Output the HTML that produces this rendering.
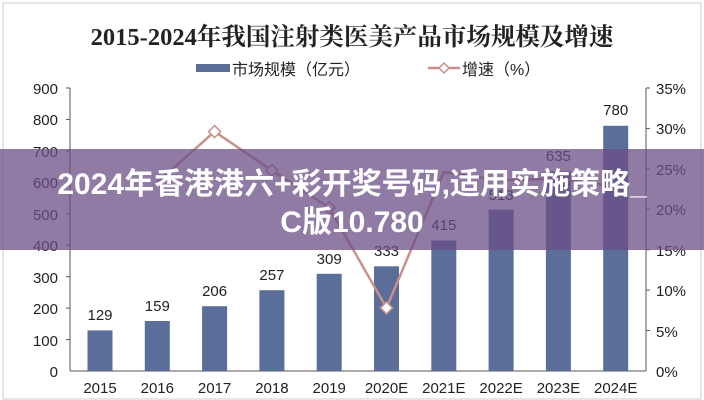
<!DOCTYPE html>
<html><head><meta charset="utf-8"><style>
body{margin:0;background:#fff;}
</style></head><body>
<svg width="704" height="400" viewBox="0 0 704 400" xmlns="http://www.w3.org/2000/svg" style="display:block;font-family:'Liberation Sans','Noto Sans CJK SC',sans-serif">
<rect x="0" y="0" width="704" height="400" fill="#fff"/>
<rect x="3" y="3" width="698" height="396" fill="none" stroke="#ccc" stroke-width="1"/>
<text x="352" y="45" text-anchor="middle" font-family="'Liberation Serif','Noto Serif CJK SC',serif" font-size="24.5" font-weight="bold" fill="#222">2015-2024年我国注射类医美产品市场规模及增速</text>
<rect x="196" y="64" width="34" height="8" fill="#5b6e9a"/>
<text x="232" y="75" font-size="16" fill="#222">市场规模（亿元）</text>
<line x1="428" y1="68" x2="460" y2="68" stroke="#c9908a" stroke-width="2.5"/>
<path d="M444 63 L449 68 L444 73 L439 68Z" fill="#fff" stroke="#c9908a" stroke-width="1.5"/>
<text x="462" y="75" font-size="16" fill="#222">增速（%）</text>
<g stroke="#555" stroke-width="1">
<line x1="70" y1="88" x2="70" y2="371"/><line x1="70" y1="371" x2="646" y2="371"/><line x1="646" y1="88" x2="646" y2="371"/>
<line x1="66" y1="88" x2="70" y2="88"/><line x1="66" y1="119.4" x2="70" y2="119.4"/><line x1="66" y1="150.9" x2="70" y2="150.9"/><line x1="66" y1="182.3" x2="70" y2="182.3"/><line x1="66" y1="213.8" x2="70" y2="213.8"/><line x1="66" y1="245.2" x2="70" y2="245.2"/><line x1="66" y1="276.7" x2="70" y2="276.7"/><line x1="66" y1="308.1" x2="70" y2="308.1"/><line x1="66" y1="339.6" x2="70" y2="339.6"/>
<line x1="646" y1="88" x2="650" y2="88"/><line x1="646" y1="128.4" x2="650" y2="128.4"/><line x1="646" y1="168.9" x2="650" y2="168.9"/><line x1="646" y1="209.3" x2="650" y2="209.3"/><line x1="646" y1="249.7" x2="650" y2="249.7"/><line x1="646" y1="290.1" x2="650" y2="290.1"/><line x1="646" y1="330.6" x2="650" y2="330.6"/>
</g>
<g font-size="15" fill="#222" text-anchor="end">
<text x="58" y="94">900</text><text x="58" y="125">800</text><text x="58" y="157">700</text><text x="58" y="188">600</text><text x="58" y="220">500</text><text x="58" y="251">400</text><text x="58" y="283">300</text><text x="58" y="314">200</text><text x="58" y="346">100</text><text x="58" y="377">0</text>
</g>
<g font-size="15" fill="#222">
<text x="656" y="94">35%</text><text x="656" y="134">30%</text><text x="656" y="175">25%</text><text x="656" y="215">20%</text><text x="656" y="256">15%</text><text x="656" y="296">10%</text><text x="656" y="337">5%</text><text x="656" y="377">0%</text>
</g>
<g fill="#5b6e9a">
<rect x="87.5" y="330.4" width="25" height="40.6"/><rect x="144.8" y="321" width="25" height="50"/><rect x="202.1" y="306.2" width="25" height="64.8"/><rect x="259.4" y="290.2" width="25" height="80.8"/><rect x="316.7" y="273.8" width="25" height="97.2"/><rect x="374" y="266.3" width="25" height="104.7"/><rect x="431.3" y="240.5" width="25" height="130.5"/><rect x="488.6" y="209.7" width="25" height="161.3"/><rect x="545.9" y="171.4" width="25" height="199.6"/><rect x="603.2" y="125.8" width="25" height="245.2"/>
</g>
<g font-size="15" fill="#222" text-anchor="middle">
<text x="100" y="320">129</text><text x="157.3" y="311">159</text><text x="214.6" y="296">206</text><text x="271.9" y="280">257</text><text x="329.2" y="264">309</text><text x="386.5" y="256">333</text><text x="443.8" y="230">415</text><text x="501.1" y="200">513</text><text x="558.4" y="161">635</text><text x="615.7" y="115">780</text>
</g>
<g font-size="15" fill="#222" text-anchor="middle">
<text x="100" y="393">2015</text><text x="157.3" y="393">2016</text><text x="214.6" y="393">2017</text><text x="271.9" y="393">2018</text><text x="329.2" y="393">2019</text><text x="386.5" y="393">2020E</text><text x="443.8" y="393">2021E</text><text x="501.1" y="393">2022E</text><text x="558.4" y="393">2023E</text><text x="615.7" y="393">2024E</text>
</g>
<polyline points="157.3,182.6 214.6,131.6 271.9,170.5 329.2,207.7 386.5,307.9 443.8,172 501.1,180.2 558.4,178.6 615.7,186.6" fill="none" stroke="#c9908a" stroke-width="2.5"/>
<g fill="#fff" stroke="#c9908a" stroke-width="1.5">
<path d="M214.6 125.6 L220.6 131.6 L214.6 137.6 L208.6 131.6Z"/>
<path d="M271.9 164.5 L277.9 170.5 L271.9 176.5 L265.9 170.5Z"/>
<path d="M329.2 201.7 L335.2 207.7 L329.2 213.7 L323.2 207.7Z"/>
<path d="M386.5 301.9 L392.5 307.9 L386.5 313.9 L380.5 307.9Z"/>
</g>
<rect x="0" y="149" width="704" height="101" fill="#6a4f86" fill-opacity="0.75"/>
<text x="352" y="194" text-anchor="middle" font-family="'Liberation Sans','Noto Sans CJK SC',sans-serif" font-size="30" font-weight="bold" fill="#fff">2024年香港港六+彩开奖号码,适用实施策略_</text>
<text x="352" y="232" text-anchor="middle" font-family="'Liberation Sans','Noto Sans CJK SC',sans-serif" font-size="30" font-weight="bold" fill="#fff">C版10.780</text>
</svg>
</body></html>
